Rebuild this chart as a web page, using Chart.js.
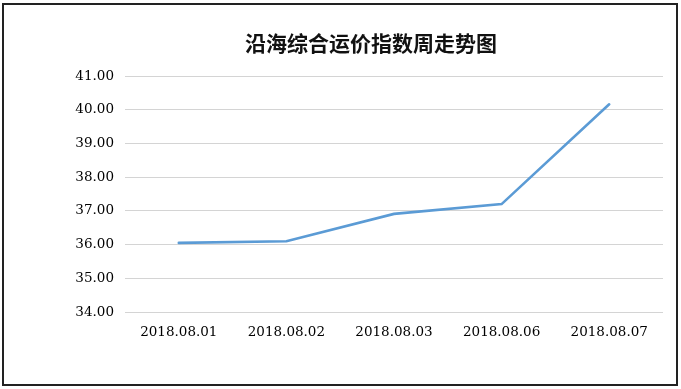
<!DOCTYPE html>
<html>
<head>
<meta charset="utf-8">
<script src="https://cdn.jsdelivr.net/npm/chart.js@4"></script>
<style>
  html, body { margin: 0; padding: 0; background: #fff; }
  #wrap { position: relative; width: 681px; height: 389px; }
  #frame {
    position: absolute; left: 2px; top: 3px; width: 672px; height: 379px;
    border: 2px solid #222; pointer-events: none;
  }
</style>
</head>
<body>
<div id="wrap">
  <canvas id="freightChart" width="681" height="389"></canvas>
  <div id="frame"></div>
</div>
<script>
// dados do grafico
const chartTitle = "沿海综合运价指数周走势图";
const dates = ["2018.08.01", "2018.08.02", "2018.08.03", "2018.08.06", "2018.08.07"];
const indexValues = [36.05, 36.10, 36.91, 37.20, 40.16];
const yMin = 34;
const yMax = 41;
const yStep = 1;

const tickFont = { family: "'DejaVu Serif', 'Liberation Serif', serif", size: 13.5 };

// titulo desenhado no canvas
const titlePlugin = {
  id: "fixedTitle",
  afterDraw(chart) {
    const c = chart.ctx;
    c.save();
    c.font = "bold 21px 'Noto Sans CJK SC', sans-serif";
    c.fillStyle = "#111";
    c.textAlign = "center";
    c.textBaseline = "middle";
    c.fillText(chartTitle, 371, 43);
    c.restore();
  },
};

const ctx = document.getElementById("freightChart");

new Chart(ctx, {
  type: "line",
  data: {
    labels: dates,
    datasets: [
      {
        label: chartTitle,
        data: indexValues,
        borderWidth: 2.6,
        tension: 0,
        borderColor: "#5b9bd5",
        backgroundColor: "#5b9bd5",
        pointRadius: 0,
        pointHoverRadius: 0,
        borderCapStyle: "round",
      },
    ],
  },
  options: {
    responsive: false,
    animation: false,
    layout: { padding: { left: 0, right: 18, top: 76, bottom: 0 } },
    plugins: {
      legend: { display: false },
      title: { display: false },
      tooltip: { enabled: false },
    },
    scales: {
      x: {
        offset: true,
        grid: { display: false, drawTicks: false },
        border: { display: false },
        ticks: { color: "#000", font: tickFont, padding: 12, maxRotation: 0, autoSkip: false },
        afterFit(scale) { scale.height = 77; },
      },
      y: {
        min: yMin,
        max: yMax,
        grid: { color: "#d4d4d4", lineWidth: 1, drawTicks: false },
        border: { display: false },
        ticks: {
          stepSize: yStep,
          color: "#000",
          font: tickFont,
          padding: 11,
          callback: (v) => v.toFixed(2),
        },
        afterFit(scale) { scale.width = 125; },
      },
    },
  },
  plugins: [titlePlugin],
});
</script>
</body>
</html>
